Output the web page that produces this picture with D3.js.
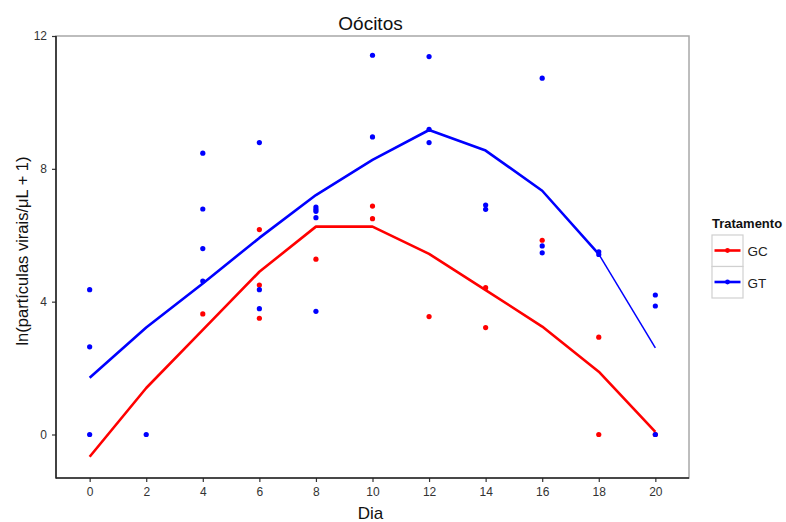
<!DOCTYPE html>
<html><head><meta charset="utf-8">
<script src="https://cdn.jsdelivr.net/npm/d3@7"></script>
<style>body{margin:0;background:#fff;} svg{display:block;font-family:"Liberation Sans",Arial,sans-serif;}</style>
</head><body>
<script>
// ---- data ----
const days = [0,2,4,6,8,10,12,14,16,18,20];
const xTicks = [0,2,4,6,8,10,12,14,16,18,20];
const yTicks = [0,4,8,12];
const seriesNames = ["GC","GT"];
const seriesColors = ["#ff0000","#0000ff"];
const lineGC = [-0.67,1.40,3.15,4.90,6.26,6.26,5.44,4.35,3.25,1.89,0.08];
const lineGT = [1.71,3.22,4.55,5.92,7.21,8.27,9.17,8.55,7.34,5.43,2.61];
const pointsGCDay = [4,6,6,6,8,10,10,12,14,14,16,18,18,20];
const pointsGCVal = [3.63,6.17,4.50,3.50,5.28,6.88,6.50,3.55,4.42,3.22,5.85,2.93,0.00,0.00];
const pointsGTDay = [0,0,0,2,4,4,4,4,6,6,6,8,8,8,8,8,10,10,12,12,12,14,14,16,16,16,18,18,20,20,20];
const pointsGTVal = [4.36,2.64,0.00,0.00,8.47,6.79,5.60,4.62,8.79,4.36,3.79,6.85,6.78,6.72,6.53,3.71,11.42,8.96,11.38,9.19,8.79,6.91,6.78,10.73,5.68,5.47,5.50,5.42,4.20,3.87,0.00];

const W=786,H=522;
const panel={left:56,right:689,top:36,bottom:478};
const svg=d3.select("body").append("svg").attr("width",W).attr("height",H);

const x=d3.scaleLinear().domain([-1.19,21.19]).range([panel.left,panel.right]);
const y=d3.scaleLinear().domain([-1.31,12.0]).range([panel.bottom,panel.top]);

// panel border (grey top/right)
svg.append("rect").attr("x",panel.left).attr("y",panel.top)
  .attr("width",panel.right-panel.left).attr("height",panel.bottom-panel.top)
  .attr("fill","#fff").attr("stroke","#a8a8a8").attr("stroke-width",1.5);

// axes
const xAxis=svg.append("g").attr("transform",`translate(0,${panel.bottom})`)
  .call(d3.axisBottom(x).tickValues(xTicks).tickSize(4).tickPadding(5).tickSizeOuter(0));
const yAxis=svg.append("g").attr("transform",`translate(${panel.left},0)`)
  .call(d3.axisLeft(y).tickValues(yTicks).tickSize(4).tickPadding(5).tickSizeOuter(0));
[xAxis,yAxis].forEach(g=>{
  g.select(".domain").remove();
  g.selectAll(".tick line").attr("stroke","#333").attr("stroke-width",1.2);
  g.selectAll(".tick text").attr("fill","#333").style("font-size","12px").style("font-family","Liberation Sans, Arial, sans-serif");
});
// black axis lines
svg.append("line").attr("x1",panel.left).attr("x2",panel.left).attr("y1",panel.top).attr("y2",panel.bottom+0.5).attr("stroke","#222").attr("stroke-width",1.6);
svg.append("line").attr("x1",panel.left).attr("x2",panel.right).attr("y1",panel.bottom).attr("y2",panel.bottom).attr("stroke","#222").attr("stroke-width",1.6);

// lines
const lineGen=d3.line().x(d=>x(d[0])).y(d=>y(d[1]));
const lines=[lineGC,lineGT];
lines.forEach((vals,i)=>{
  const pts=days.map((d,j)=>[d,vals[j]]);
  if(i===1){
    svg.append("path").attr("d",lineGen(pts.slice(0,10))).attr("fill","none")
      .attr("stroke",seriesColors[i]).attr("stroke-width",2.6).attr("stroke-linejoin","round");
    svg.append("path").attr("d",lineGen(pts.slice(9))).attr("fill","none")
      .attr("stroke",seriesColors[i]).attr("stroke-width",1.5);
  } else {
    svg.append("path").attr("d",lineGen(pts)).attr("fill","none")
      .attr("stroke",seriesColors[i]).attr("stroke-width",2.6).attr("stroke-linejoin","round");
  }
});

// points
const gcPts=pointsGCDay.map((d,i)=>[d,pointsGCVal[i]]);
const gtPts=pointsGTDay.map((d,i)=>[d,pointsGTVal[i]]);
[[gcPts,0],[gtPts,1]].forEach(([pts,i])=>{
  svg.append("g").selectAll("circle").data(pts).join("circle")
    .attr("cx",d=>x(d[0])).attr("cy",d=>y(d[1])).attr("r",2.6)
    .attr("fill",seriesColors[i]);
});

// titles
svg.append("text").attr("x",(panel.left+panel.right)/2-2).attr("y",30).attr("text-anchor","middle")
  .style("font-size","19px").attr("fill","#111").text("Oócitos");
svg.append("text").attr("x",(panel.left+panel.right)/2-2).attr("y",519).attr("text-anchor","middle")
  .style("font-size","17px").attr("fill","#111").text("Dia");
svg.append("text").attr("transform",`translate(28,${(panel.top+panel.bottom)/2-6}) rotate(-90)`)
  .attr("text-anchor","middle").style("font-size","16.5px").attr("fill","#111")
  .text("ln(partículas virais/μL + 1)");

// legend
const lg=svg.append("g");
lg.append("text").attr("x",712).attr("y",228).style("font-size","13px").style("font-weight","bold")
  .attr("fill","#111").text("Tratamento");
seriesNames.forEach((n,i)=>{
  const top=235+i*31.5;
  lg.append("rect").attr("x",712).attr("y",top).attr("width",31).attr("height",31.5)
    .attr("fill","#fff").attr("stroke","#d0d0d0").attr("stroke-width",1.2);
  lg.append("line").attr("x1",714.5).attr("x2",740.5).attr("y1",top+15.5).attr("y2",top+15.5)
    .attr("stroke",seriesColors[i]).attr("stroke-width",2.6);
  lg.append("circle").attr("cx",727.5).attr("cy",top+15.5).attr("r",2.4).attr("fill",seriesColors[i]);
  lg.append("text").attr("x",747.5).attr("y",top+21).style("font-size","13.5px").attr("fill","#222").text(n);
});
</script>
</body></html>
